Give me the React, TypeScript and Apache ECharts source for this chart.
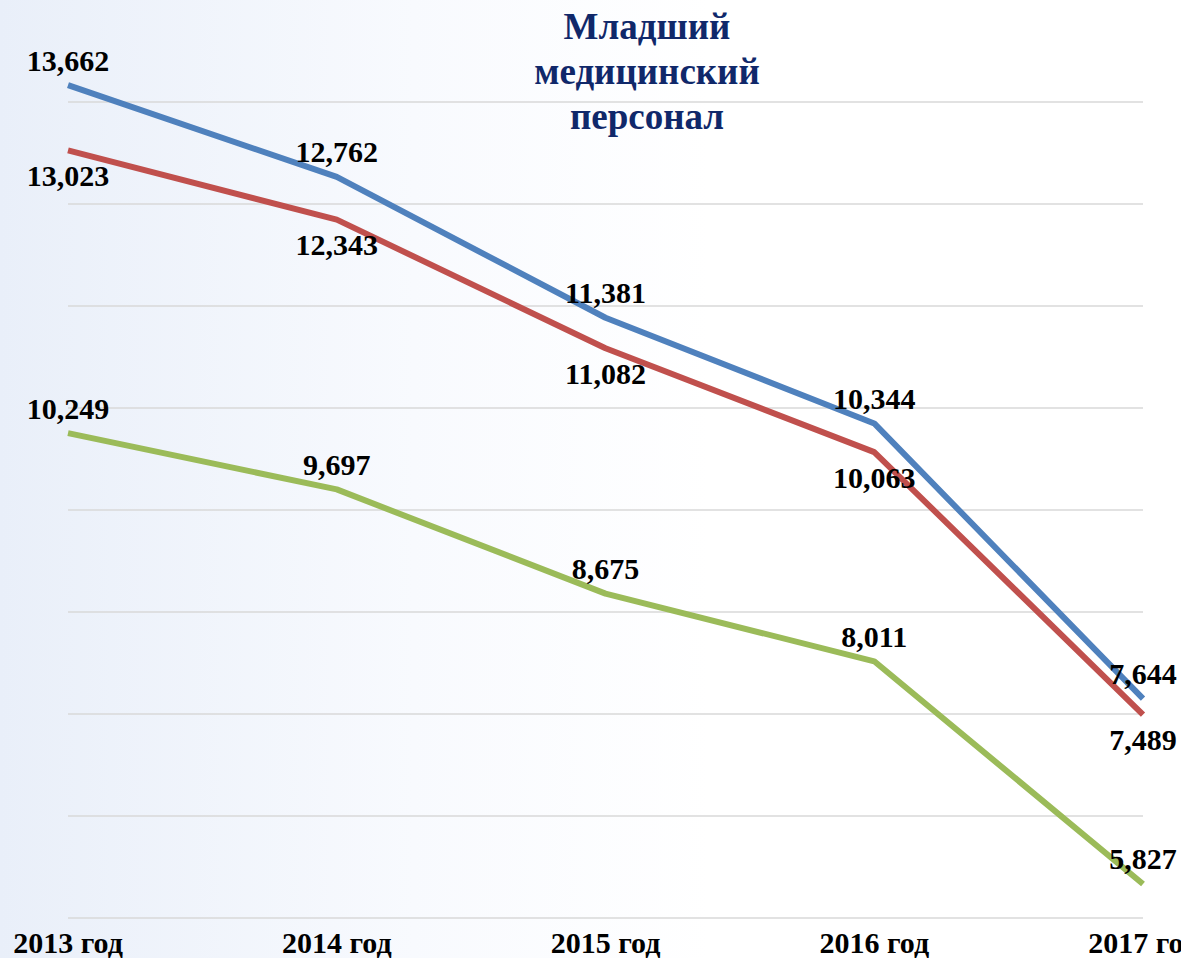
import React, { useEffect, useRef } from "react";
import * as echarts from "echarts";

const categories = ["2013 год", "2014 год", "2015 год", "2016 год", "2017 год"];
const seriesBlue = [13662, 12762, 11381, 10344, 7644];
const seriesRed = [13023, 12343, 11082, 10063, 7489];
const seriesGreen = [10249, 9697, 8675, 8011, 5827];
const titleLines = ["Младший", "медицинский", "персонал"];

const FONT = "'Liberation Serif', 'Times New Roman', serif";

export default function App() {
  const ref = useRef<HTMLDivElement>(null);
  useEffect(() => {
    if (!ref.current) return;
    const chart = echarts.init(ref.current, null, { renderer: "svg" });
    const fmt = (p: any) => Number(p.value).toLocaleString("en-US");
    const labelBase = {
      show: true,
      fontFamily: FONT,
      fontWeight: "bold" as const,
      fontSize: 30,
      color: "#000",
      formatter: fmt,
    };
    const mk = (name: string, data: number[], color: string, pos: "top" | "bottom", dist: number) => ({
      name,
      type: "line",
      data,
      clip: false,
      showSymbol: true,
      symbol: "circle",
      symbolSize: 0.1,
      lineStyle: { color, width: 6, cap: "butt" },
      itemStyle: { color },
      label: { ...labelBase, position: pos, distance: dist },
      labelLayout: { hideOverlap: false },
      z: 2,
    });
    chart.setOption({
      animation: false,
      backgroundColor: {
        type: "linear",
        x: 0,
        y: 0,
        x2: 1,
        y2: 0,
        colorStops: [
          { offset: 0, color: "#e9eff9" },
          { offset: 0.35, color: "#f8fafe" },
          { offset: 0.6, color: "#ffffff" },
          { offset: 1, color: "#ffffff" },
        ],
      },
      title: {
        text: titleLines.join("\n"),
        left: 642,
        top: -1,
        textAlign: "center",
        textStyle: {
          fontFamily: FONT,
          fontWeight: "bold",
          fontSize: 37,
          lineHeight: 45,
          color: "#10286a",
        },
      },
      grid: {
        left: 68,
        right: 38,
        top: 101.7,
        bottom: 40.7,
        containLabel: false,
        outerBoundsMode: "none",
      },
      xAxis: {
        type: "category",
        data: categories,
        boundaryGap: false,
        axisLine: { show: false },
        axisTick: { show: false },
        axisLabel: {
          fontFamily: FONT,
          fontWeight: "bold",
          fontSize: 30,
          lineHeight: 28,
          color: "#000",
          margin: 11,
          interval: 0,
          hideOverlap: false,
        },
      },
      yAxis: {
        type: "value",
        min: 5500,
        max: 13500,
        interval: 1000,
        axisLabel: { show: false },
        axisLine: { show: false },
        axisTick: { show: false },
        splitLine: { show: true, lineStyle: { color: "#d9d9d9", width: 1.5 } },
      },
      series: [
        mk("A", seriesBlue, "#4f81bd", "top", 10),
        mk("B", seriesRed, "#c0504d", "bottom", 10),
        mk("C", seriesGreen, "#9bbb59", "top", 10),
      ],
    });
    return () => chart.dispose();
  }, []);
  return (
    <div
      ref={ref}
      style={{ position: "fixed", left: 0, top: 0, width: 1181, height: 958 }}
    />
  );
}
